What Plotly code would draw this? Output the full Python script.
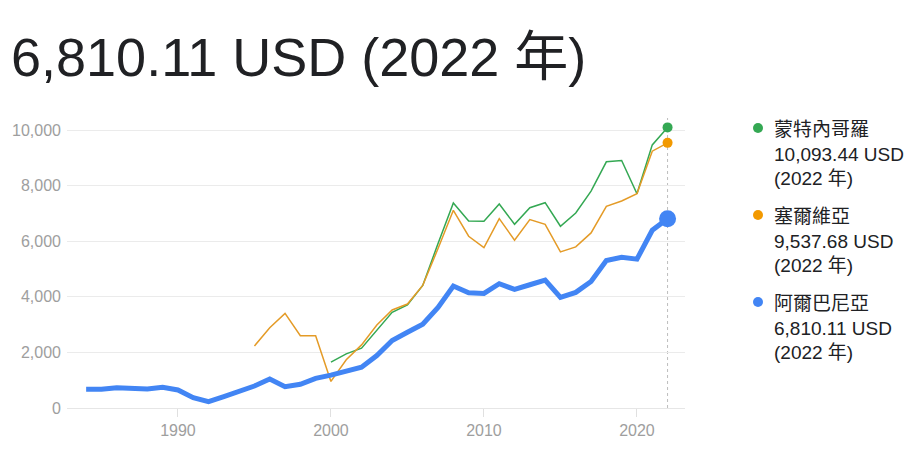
import plotly.graph_objects as go

years_alb = list(range(1984, 2023))
alb = [673, 673, 731, 708, 683, 744, 647, 372, 228, 408, 611, 791, 1043, 767, 851, 1067,
       1183, 1315, 1470, 1888, 2426, 2725, 3011, 3621, 4386, 4147, 4123, 4470, 4266, 4433,
       4600, 3979, 4159, 4553, 5306, 5425, 5354, 6393, 6810.11]
years_srb = list(range(1995, 2023))
srb = [2230, 2890, 3405, 2600, 2600, 956, 1733, 2270, 2988, 3525, 3740, 4410, 5736, 7110,
       6178, 5772, 6812, 6035, 6776, 6608, 5617, 5796, 6298, 7254, 7445, 7708, 9237, 9537.68]
years_mne = list(range(2000, 2023))
mne = [1649, 1948, 2151, 2808, 3442, 3705, 4410, 5915, 7373, 6728, 6716, 7337, 6608, 7206,
       7385, 6537, 7015, 7803, 8855, 8903, 7708, 9464, 10093.44]

names = ["蒙特內哥羅", "塞爾維亞", "阿爾巴尼亞"]
latest = ["10,093.44 USD", "9,537.68 USD", "6,810.11 USD"]
latest_year = "2022 年"
title_text = "6,810.11 USD (2022 年)"
x_ticks = [1990, 2000, 2010, 2020]
y_ticks = [0, 2000, 4000, 6000, 8000, 10000]
y_ticklabels = ["0", "2,000", "4,000", "6,000", "8,000", "10,000"]

GREEN = "#34A853"
ORANGE = "#F29900"
ORANGE_LINE = "#E49B27"
BLUE = "#4285F4"
FONT = "Arial, 'Liberation Sans', 'Noto Sans CJK TC', sans-serif"

W, H = 921, 464
L, R, T, B = 67, 236, 118, 56
plot_w = W - L - R
plot_h = H - T - B

def px_x(px):
    return (px - L) / plot_w

def px_y(py):
    return (H - B - py) / plot_h

fig = go.Figure()
fig.add_trace(go.Scatter(x=years_mne, y=mne, mode="lines", line=dict(color=GREEN, width=1.5),
                         name=names[0], showlegend=False, hoverinfo="skip"))
fig.add_trace(go.Scatter(x=years_srb, y=srb, mode="lines", line=dict(color=ORANGE_LINE, width=1.5),
                         name=names[1], showlegend=False, hoverinfo="skip"))
fig.add_trace(go.Scatter(x=years_alb, y=alb, mode="lines", line=dict(color=BLUE, width=5),
                         name=names[2], showlegend=False, hoverinfo="skip"))
# end markers
fig.add_trace(go.Scatter(x=[years_mne[-1]], y=[mne[-1]], mode="markers",
                         marker=dict(color=GREEN, size=10), showlegend=False, hoverinfo="skip"))
fig.add_trace(go.Scatter(x=[years_srb[-1]], y=[srb[-1]], mode="markers",
                         marker=dict(color=ORANGE, size=10), showlegend=False, hoverinfo="skip"))
fig.add_trace(go.Scatter(x=[years_alb[-1]], y=[alb[-1]], mode="markers",
                         marker=dict(color=BLUE, size=17), showlegend=False, hoverinfo="skip"))

ymax = 10000 * plot_h / 278.0

# dotted vertical line at latest year
fig.add_shape(type="line", xref="x", yref="paper", x0=years_alb[-1], x1=years_alb[-1],
              y0=0, y1=1, line=dict(color="#BDBDBD", width=1, dash="dot"), layer="below")

# legend block
colors = [GREEN, ORANGE, BLUE]
group_tops = [117, 204, 291]
for i in range(3):
    top = group_tops[i]
    fig.add_shape(type="circle", xref="paper", yref="paper",
                  xsizemode="pixel", ysizemode="pixel",
                  xanchor=px_x(758), yanchor=px_y(top + 11),
                  x0=-5, x1=5, y0=-5, y1=5,
                  fillcolor=colors[i], line=dict(width=0))
    fig.add_annotation(xref="paper", yref="paper", x=px_x(772), y=px_y(top),
                       xanchor="left", yanchor="top", align="left", showarrow=False,
                       text=f"{names[i]}<br>{latest[i]}<br>({latest_year})",
                       font=dict(family=FONT, size=19, color="#202124"))

fig.update_layout(
    width=W, height=H,
    margin=dict(l=L, r=R, t=T, b=B, pad=0),
    paper_bgcolor="white", plot_bgcolor="white",
    title=dict(text=title_text, x=11 / W, xanchor="left", xref="container",
               y=1 - 57 / H, yanchor="middle", yref="container",
               font=dict(family=FONT, size=54, color="#202124")),
    xaxis=dict(range=[1982.75, 2023.14], tickvals=x_ticks, showgrid=False, zeroline=False,
               showline=False, ticks="outside", ticklen=8, tickcolor="#E0E0E0",
               tickfont=dict(family=FONT, size=16, color="#9E9E9E"), fixedrange=True),
    yaxis=dict(range=[0, ymax], tickvals=y_ticks, ticktext=y_ticklabels, showgrid=True,
               gridcolor="#EBEBEB", gridwidth=1, zeroline=True, zerolinecolor="#E6E6E6",
               zerolinewidth=1, showline=False, ticks="", ticklabelstandoff=5,
               tickfont=dict(family=FONT, size=16, color="#9E9E9E"), fixedrange=True),
    showlegend=False,
)

fig.write_html("out.html")
